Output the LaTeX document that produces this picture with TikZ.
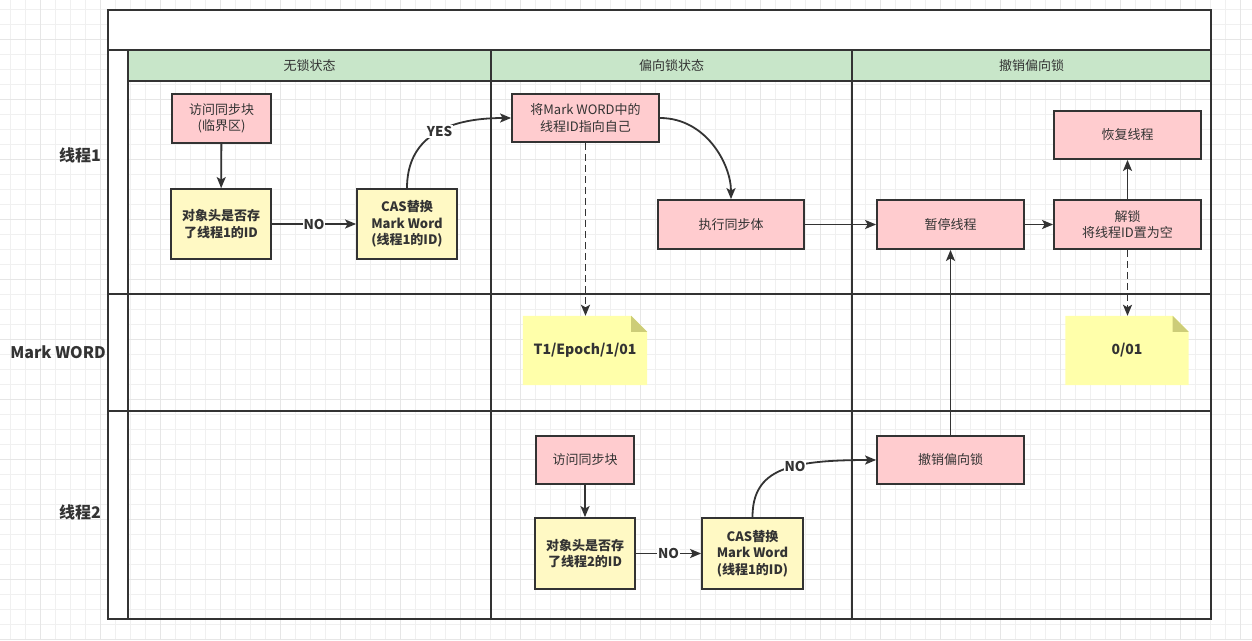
\documentclass[tikz,border=0pt]{standalone}
\usepackage{fontspec}
\setmainfont{Noto Sans CJK SC}
\usetikzlibrary{calc,arrows.meta}
\pgfdeclarelayer{grid}
\pgfdeclarelayer{background}
\pgfsetlayers{grid,background,main}
\definecolor{linegray}{HTML}{333333}
\definecolor{pinkfill}{HTML}{FFCCCF}
\definecolor{yellowfill}{HTML}{FFF9C4}
\definecolor{notefill}{HTML}{FFFFAA}
\definecolor{foldfill}{HTML}{CDCD78}
\definecolor{headgreen}{HTML}{C8E6C9}
\definecolor{gridminor}{HTML}{F0F0F0}
\definecolor{gridmajor}{HTML}{E6E6E6}
\begin{document}
\begin{tikzpicture}[x=1pt,y=-1pt,
    box/.style={draw=linegray,line width=1.8pt,rectangle,inner sep=2pt,align=center,text=linegray,font={\fontsize{13}{16.5}\selectfont}},
    pinkbox/.style={box,fill=pinkfill},
    yellowbox/.style={box,fill=yellowfill,font={\fontsize{13}{16.5}\selectfont\bfseries}},
    notebox/.style={inner sep=0pt,minimum width=124pt,minimum height=69pt,text=linegray,font={\fontsize{14}{17}\selectfont\bfseries}},
    flow/.style={draw=linegray,line width=1.8pt,-{Stealth[length=11pt,width=9pt,inset=2.5pt]}},
    dashflow/.style={flow,dash pattern=on 7pt off 4pt},
    edgelabel/.style={fill=white,inner sep=1pt,text=linegray,font={\fontsize{13.5}{16}\selectfont\bfseries}},
    lane/.style={draw=linegray,line width=2.2pt},
    lanetext/.style={text=linegray,font={\fontsize{13}{16}\selectfont}},
    rowtext/.style={anchor=east,inner sep=0pt,text=linegray,font={\fontsize{16}{19}\selectfont\bfseries}}]
    \useasboundingbox (0,0) rectangle (1252,640);

    \begin{pgfonlayer}{grid}
        \fill[white] (0,0) rectangle (1252,640);
        \foreach \gx in {10.5,25.5,...,1252} \draw[gridminor,line width=1pt] (\gx,0) -- (\gx,640);
        \foreach \gy in {9.5,24.5,...,640} \draw[gridminor,line width=1pt] (0,\gy) -- (1252,\gy);
        \foreach \gx in {40.5,100.5,...,1252} \draw[gridmajor,line width=1pt] (\gx,0) -- (\gx,640);
        \foreach \gy in {39.5,99.5,...,640} \draw[gridmajor,line width=1pt] (0,\gy) -- (1252,\gy);
    \end{pgfonlayer}

    \fill[white] (108,10) rectangle (1211,50);
    \fill[white] (108,50) rectangle (128,619);
    \fill[headgreen] (128,50) rectangle (1211,81);
    \draw[lane] (108,10) rectangle (1211,619);
    \draw[lane] (108,50) -- (1211,50);
    \draw[lane] (128,81) -- (1211,81);
    \draw[lane] (128,50) -- (128,619);
    \draw[lane] (491,50) -- (491,619);
    \draw[lane] (852,50) -- (852,619);
    \draw[lane] (108,294) -- (1211,294);
    \draw[lane] (108,411) -- (1211,411);

    \node[lanetext] (nolock) at (309.5,65.5) {无锁状态};
    \node[lanetext] (biaslock) at (671.5,65.5) {偏向锁状态};
    \node[lanetext] (revokelock) at (1031.5,65.5) {撤销偏向锁};

    \node[rowtext] (thread1) at (101,155) {线程1};
    \node[rowtext] (markword) at (106,352) {Mark WORD};
    \node[rowtext] (thread2) at (101,512) {线程2};

    \node[pinkbox,minimum width=99pt,minimum height=49pt] (t1visit) at (221.5,118.5) {访问同步块\\(临界区)};
    \node[yellowbox,minimum width=100pt,minimum height=70pt] (t1check) at (221,224) {对象头是否存\\了线程1的ID};
    \node[yellowbox,minimum width=100pt,minimum height=70pt] (t1cas) at (407,224) {CAS替换\\Mark Word\\(线程1的ID)};
    \node[pinkbox,minimum width=147pt,minimum height=48pt] (t1bias) at (585.5,118) {将Mark WORD中的\\线程ID指向自己};
    \node[pinkbox,minimum width=146pt,minimum height=49pt] (t1exec) at (731,224.5) {执行同步体};
    \node[pinkbox,minimum width=147pt,minimum height=49pt] (t1pause) at (950.5,224.5) {暂停线程};
    \node[pinkbox,minimum width=147pt,minimum height=49pt] (t1unlock) at (1127.5,224.5) {解锁\\将线程ID置为空};
    \node[pinkbox,minimum width=147pt,minimum height=48pt] (t1resume) at (1127.5,135) {恢复线程};

    \node[notebox] (t1note) at (585,350.5) {T1/Epoch/1/01};
    \node[notebox,minimum width=123pt] (t2note) at (1127,350.5) {0/01};

    \node[pinkbox,minimum width=98pt,minimum height=48pt] (t2visit) at (585,460) {访问同步块};
    \node[yellowbox,minimum width=100pt,minimum height=71pt] (t2check) at (585,553.5) {对象头是否存\\了线程2的ID};
    \node[yellowbox,minimum width=101pt,minimum height=71pt] (t2cas) at (752.5,553.5) {CAS替换\\Mark Word\\(线程1的ID)};
    \node[pinkbox,minimum width=147pt,minimum height=48pt] (t2revoke) at (950.5,460) {撤销偏向锁};

    \begin{pgfonlayer}{background}
        \foreach \n in {t1note,t2note} {
            \fill[notefill] (\n.south west) -- (\n.north west) -- ([xshift=-16pt]\n.north east) -- ([yshift=-16pt]\n.north east) -- (\n.south east) -- cycle;
            \fill[foldfill] ([xshift=-16pt]\n.north east) -- ([xshift=-16pt,yshift=-16pt]\n.north east) -- ([yshift=-16pt]\n.north east) -- cycle;
        }
    \end{pgfonlayer}

    \draw[flow] (t1visit) -- (t1check);
    \draw[flow] (t1check) -- node[edgelabel] {NO} (t1cas);
    \draw[flow] (t1cas.north) .. controls +(0,-49) and +(-67,0) .. node[edgelabel,pos=0.55] {YES} (t1bias.west);
    \draw[dashflow] (t1bias.south) -- (t1bias.south |- t1note.north);
    \draw[flow] (t1bias.east) .. controls +(46,0) and +(0,-35) .. (t1exec.north);
    \draw[flow] (t1exec) -- (t1pause);
    \draw[flow] (t1pause) -- (t1unlock);
    \draw[flow] (t1unlock) -- (t1resume);
    \draw[dashflow] (t1unlock.south) -- (t1unlock.south |- t2note.north);
    \draw[flow] (t2visit) -- (t2check);
    \draw[flow] (t2check) -- node[edgelabel] {NO} (t2cas);
    \draw[flow] (t2cas.north) .. controls +(0,-48) and +(-87,0) .. node[edgelabel,pos=0.6] {NO} (t2revoke.west);
    \draw[flow] (t2revoke) -- (t1pause);
\end{tikzpicture}
\end{document}
